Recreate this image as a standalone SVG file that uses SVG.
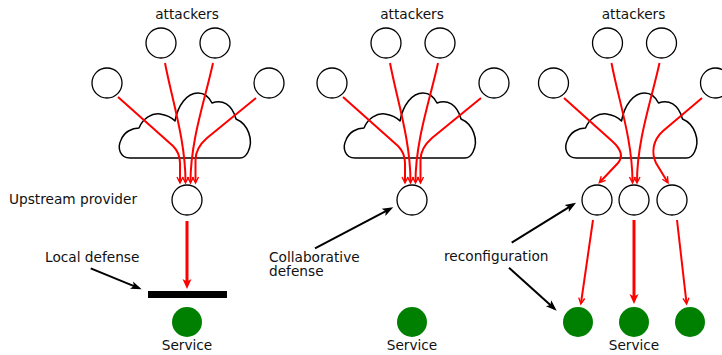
<svg xmlns="http://www.w3.org/2000/svg" xmlns:xlink="http://www.w3.org/1999/xlink" width="722" height="355" viewBox="0 0 722 355">
  <style>
    .txt { font-family: "DejaVu Sans", Verdana, sans-serif; font-size: 13.7px; fill: #111; }
    .mid { text-anchor: middle; }
    .host { fill: #fff; stroke: #000; stroke-width: 1.3; }
    .svc { fill: #008000; }
    .cloud { fill: #fff; stroke: #000; stroke-width: 1.5; stroke-linejoin: round; }
    .atk { fill: none; stroke: #f00; stroke-width: 2; marker-end: url(#vRed); }
    .flow { fill: none; stroke: #f00; stroke-width: 3; marker-end: url(#hRed); }
    .note { fill: none; stroke: #000; stroke-width: 2; marker-end: url(#hBlack); }
  </style>
  <defs>
    <!-- open chevron for thin attack arrows -->
    <marker id="vRed" markerUnits="userSpaceOnUse" orient="auto" overflow="visible" refX="0" refY="0" markerWidth="1" markerHeight="1">
      <path d="M -5 -3 L 1 0 L -5 3" fill="none" stroke="#f00" stroke-width="1.4"/>
    </marker>
    <!-- filled head for thick traffic arrows -->
    <marker id="hRed" markerUnits="userSpaceOnUse" orient="auto" overflow="visible" refX="0" refY="0" markerWidth="1" markerHeight="1">
      <path d="M 4 0 L -6 -4.5 L -3.5 0 L -6 4.5 Z" fill="#f00"/>
    </marker>
    <!-- filled head for black annotation arrows -->
    <marker id="hBlack" markerUnits="userSpaceOnUse" orient="auto" overflow="visible" refX="0" refY="0" markerWidth="1" markerHeight="1">
      <path d="M 3 0 L -8 -4 L -5.5 0 L -8 4 Z" fill="#000"/>
    </marker>
    <path id="cloudShape" d="M 130 158 C 120 158 117 148 121 140 C 124 132 132 128 139 128 C 143 118 152 113 160 114 C 167 115 172 118 175 121 C 178 105 187 93 198 93 C 206 93 210 99 212 103 C 222 99 232 104 236 119 C 248 124 254 140 248 152 C 246 156 243 158 240 158 Z"/>
  </defs>

  <!-- panel 1: local defense -->
  <g id="panel1">
    <text class="txt mid" x="187" y="18.5">attackers</text>
    <g id="p1-atk1"><circle class="host" cx="107" cy="83" r="15"/></g>
    <g id="p1-atk2"><circle class="host" cx="161" cy="43" r="15"/></g>
    <g id="p1-atk3"><circle class="host" cx="215" cy="43" r="15"/></g>
    <g id="p1-atk4"><circle class="host" cx="269" cy="83" r="15"/></g>
    <g id="p1-cloud"><use xlink:href="#cloudShape" class="cloud"/></g>
    <g id="p1-provider">
      <circle class="host" cx="187" cy="200" r="15"/>
      <text class="txt" x="9" y="204">Upstream provider</text>
    </g>
    <g id="p1-defense">
      <rect x="148" y="291" width="79" height="7" fill="#000"/>
      <text class="txt" x="45" y="262">Local defense</text>
    </g>
    <g id="p1-service">
      <circle class="svc" cx="187" cy="322" r="15"/>
      <text class="txt mid" x="187" y="350">Service</text>
    </g>
  </g>

  <!-- panel 2: collaborative defense -->
  <g id="panel2">
    <text class="txt mid" x="412" y="18.5">attackers</text>
    <g id="p2-atk1"><circle class="host" cx="332" cy="83" r="15"/></g>
    <g id="p2-atk2"><circle class="host" cx="386" cy="43" r="15"/></g>
    <g id="p2-atk3"><circle class="host" cx="440" cy="43" r="15"/></g>
    <g id="p2-atk4"><circle class="host" cx="494" cy="83" r="15"/></g>
    <g id="p2-cloud"><use xlink:href="#cloudShape" class="cloud" x="225"/></g>
    <g id="p2-provider"><circle class="host" cx="412" cy="200" r="15"/></g>
    <g id="p2-label">
      <text class="txt" x="269" y="262">Collaborative</text>
      <text class="txt" x="269" y="276">defense</text>
    </g>
    <g id="p2-service">
      <circle class="svc" cx="412" cy="322" r="15"/>
      <text class="txt mid" x="412" y="350">Service</text>
    </g>
  </g>

  <!-- panel 3: reconfiguration -->
  <g id="panel3">
    <text class="txt mid" x="633.5" y="18.5">attackers</text>
    <g id="p3-atk1"><circle class="host" cx="553.5" cy="83" r="15"/></g>
    <g id="p3-atk2"><circle class="host" cx="607.5" cy="43" r="15"/></g>
    <g id="p3-atk3"><circle class="host" cx="661.5" cy="43" r="15"/></g>
    <g id="p3-atk4"><circle class="host" cx="715.5" cy="83" r="15"/></g>
    <g id="p3-cloud"><use xlink:href="#cloudShape" class="cloud" x="446.5"/></g>
    <g id="p3-provider1"><circle class="host" cx="597" cy="200" r="15"/></g>
    <g id="p3-provider2"><circle class="host" cx="634" cy="200" r="15"/></g>
    <g id="p3-provider3"><circle class="host" cx="672" cy="200" r="15"/></g>
    <g id="p3-label"><text class="txt" x="444" y="261">reconfiguration</text></g>
    <g id="p3-service1"><circle class="svc" cx="578" cy="322" r="15"/></g>
    <g id="p3-service2">
      <circle class="svc" cx="634" cy="322" r="15"/>
      <text class="txt mid" x="634" y="350">Service</text>
    </g>
    <g id="p3-service3"><circle class="svc" cx="690" cy="322" r="15"/></g>
  </g>

  <g id="connectors">
    <!-- attack traffic converging on the single provider -->
    <g id="p1-attacks">
      <path class="atk" d="M 118 97 L 173 146 C 178 151 180 156 180 163 L 180 182"/>
      <path class="atk" d="M 165 63 C 172 100 185.5 140 185.5 182"/>
      <path class="atk" d="M 213 63 C 205 100 190.5 140 190.5 182"/>
      <path class="atk" d="M 256 98 L 207 138 C 199 145 195.5 152 195.5 160 L 195.5 182"/>
    </g>
    <g id="p2-attacks" transform="translate(225 0)">
      <path class="atk" d="M 118 97 L 173 146 C 178 151 180 156 180 163 L 180 182"/>
      <path class="atk" d="M 165 63 C 172 100 185.5 140 185.5 182"/>
      <path class="atk" d="M 213 63 C 205 100 190.5 140 190.5 182"/>
      <path class="atk" d="M 256 98 L 207 138 C 199 145 195.5 152 195.5 160 L 195.5 182"/>
    </g>
    <!-- attack traffic spread over three providers -->
    <g id="p3-attacks">
      <path class="atk" d="M 564 98 L 612 141 C 621 149 624 156 618 163 L 600 182"/>
      <path class="atk" d="M 611.5 63 C 618.5 100 632.5 140 632.5 182"/>
      <path class="atk" d="M 659.5 63 C 651.5 100 637 140 637 182"/>
      <path class="atk" d="M 702 98 L 663 131 C 653 140 651 152 656 163 L 667.5 182"/>
    </g>
    <!-- provider to service traffic -->
    <path class="flow" d="M 187 221 L 187 285"/>
    <path class="atk" d="M 593 220 L 581 303"/>
    <path class="flow" d="M 634 220 L 634 300"/>
    <path class="atk" d="M 677 220 L 686.5 303"/>
    <!-- annotation pointers -->
    <path class="note" d="M 90.7 268.3 L 138.9 288.2"/>
    <path class="note" d="M 315 248.3 L 390.6 208.7"/>
    <path class="note" d="M 511.7 242.7 L 573.5 204.3"/>
    <path class="note" d="M 509 267.7 L 554.5 308.7"/>
  </g>
</svg>
